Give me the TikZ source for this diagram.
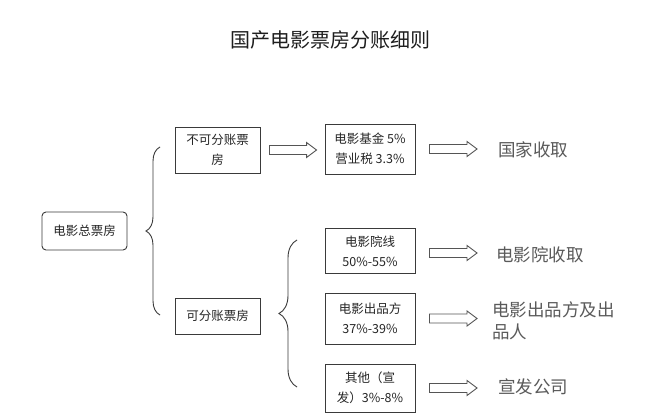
\documentclass[tikz,border=0pt]{standalone}
\usepackage{fontspec}
\setmainfont{Noto Sans CJK SC}
\usetikzlibrary{calc,decorations.pathreplacing}
\definecolor{boxc}{HTML}{3A3A3A}
\definecolor{txt}{HTML}{262626}
\definecolor{labc}{HTML}{5A5A5A}
\definecolor{arrc}{HTML}{555555}
\definecolor{titc}{HTML}{1E1E1E}
\begin{document}
\begin{tikzpicture}[x=1pt,y=-1pt,
  box/.style={draw=boxc, line width=0.9pt, text=txt, font=\fontsize{12.5}{20}\selectfont, align=center, inner sep=0pt},
  lab/.style={text=labc, font=\fontsize{17.5}{22}\selectfont, anchor=west, inner sep=0pt, align=left},
  brc/.style={draw=boxc, line width=0.9pt, decorate},
  hollow/.style={draw=arrc, line width=0.9pt, fill=white,
    to path={let \p1=(\tikztostart), \p2=(\tikztotarget) in
      (\x1,\y1+4.5pt) -- (\x2-10pt,\y1+4.5pt) -- (\x2-10pt,\y1+7.5pt) -- (\x2,\y1)
      -- (\x2-10pt,\y1-7.5pt) -- (\x2-10pt,\y1-4.5pt) -- (\x1,\y1-4.5pt) -- cycle}}
]
\useasboundingbox[fill=white] (0,0) rectangle (647,419);

\node[font=\fontsize{20}{24}\selectfont, text=titc] (title) at (330,40) {国产电影票房分账细则};

\node[box, rounded corners=4pt, minimum width=85pt, minimum height=38pt] (total) at (84.5,231) {电影总票房};
\node[box, minimum width=85pt, minimum height=46pt] (bk) at (217.5,150) {不可分账票\\房};
\node[box, minimum width=90pt, minimum height=50pt] (fund) at (370,149) {电影基金 5\%\\营业税 3.3\%};
\node[box, minimum width=85pt, minimum height=36pt] (kf) at (217.5,316) {可分账票房};
\node[box, minimum width=90pt, minimum height=45pt] (cinema) at (370,251) {电影院线\\50\%-55\%};
\node[box, minimum width=90pt, minimum height=51pt] (prod) at (370,318.5) {电影出品方\\37\%-39\%};
\node[box, minimum width=90pt, minimum height=48pt] (other) at (370,388) {其他（宣\\发）3\%-8\%};

\node[lab] (gj) at (498,150) {国家收取};
\node[lab] (yy) at (496,255) {电影院收取};
\node[lab] (cp) at (492,321) {电影出品方及出\\品人};
\node[lab] (xf) at (498,387) {宣发公司};

\coordinate (b1bot) at (160,315);
\coordinate (b1top) at (160,147);
\draw[brc, decoration={brace, amplitude=14pt}] (b1bot) -- (b1top);
\coordinate (b2bot) at (297,387);
\coordinate (b2top) at (297,240);
\draw[brc, decoration={brace, amplitude=18pt}] (b2bot) -- (b2top);

\draw[hollow] ([xshift=9pt]bk.east) to ([xshift=-8pt]fund.west);
\draw[hollow] ([xshift=14pt]fund.east) to ([xshift=-21pt]gj.west);
\draw[hollow] ([xshift=14pt,yshift=-2pt]cinema.east) to ([xshift=-19pt]yy.west);
\draw[hollow] ([xshift=14pt]prod.east) to ([xshift=-15pt]cp.west);
\draw[hollow] ([xshift=14pt]other.east) to ([xshift=-21pt]xf.west);
\end{tikzpicture}
\end{document}
